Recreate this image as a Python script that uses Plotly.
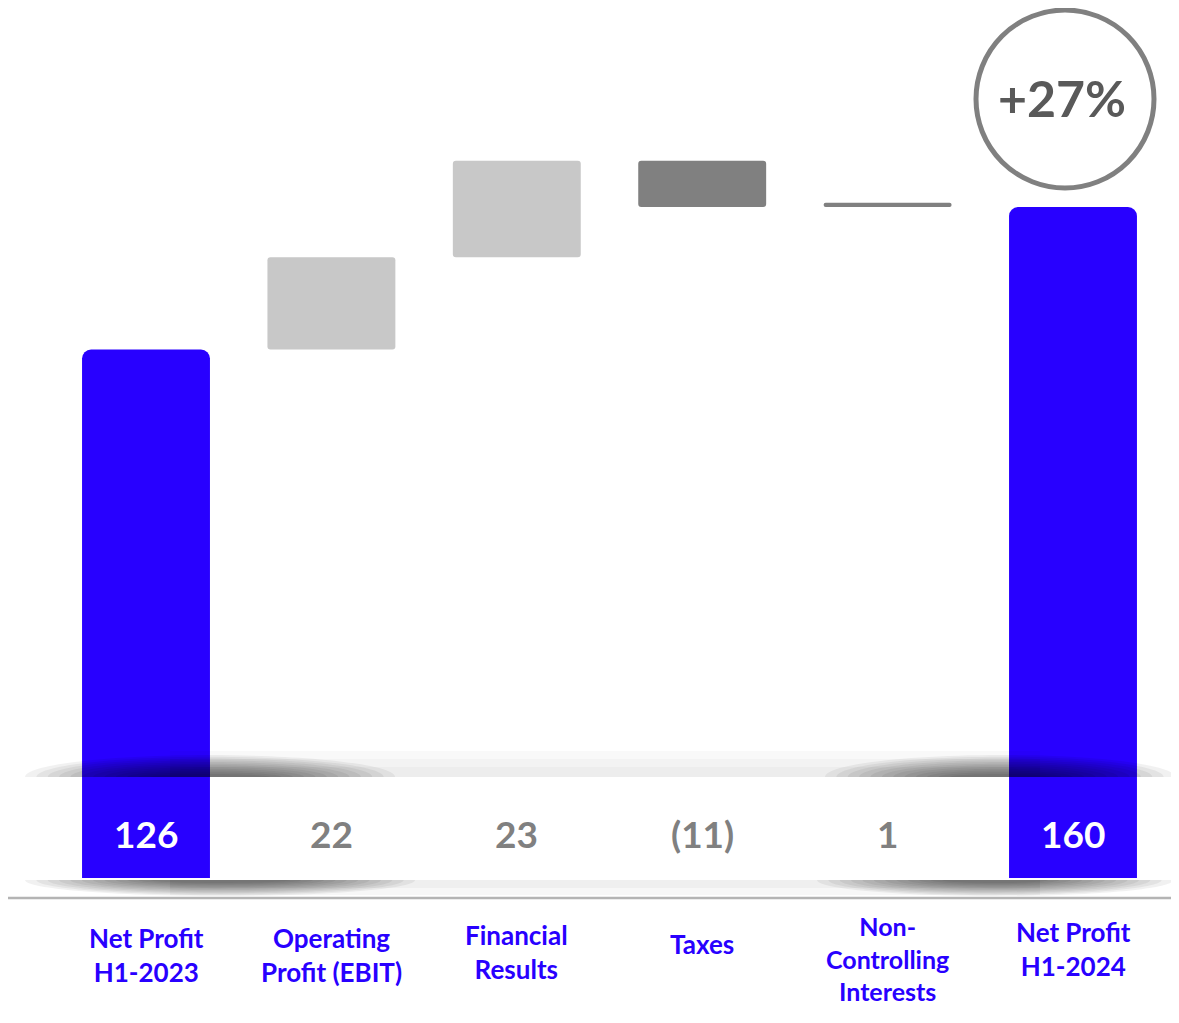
import plotly.graph_objects as go

# ---------------- data ----------------
categories = ["Net Profit<br>H1-2023", "Operating<br>Profit (EBIT)", "Financial<br>Results",
              "Taxes", "Non-<br>Controlling<br>Interests", "Net Profit<br>H1-2024"]
values = [126, 22, 23, -11, 1, 160]
kinds = ["total", "change", "change", "change", "change", "total"]
value_labels = ["126", "22", "23", "(11)", "1", "160"]
growth_label = "+27%"

# ---------------- styling ----------------
PW, PH = 1179, 1023          # browser page
OFF = 8                      # default body margin of the html page
W, H = PW - 2 * OFF, PH - 2 * OFF
BLUE = "#2800FF"
LIGHT = "#C8C8C8"
DARK = "#808080"
FONT = "Lato"

def px_x(p):
    return (p - OFF) / W

def px_y(p):
    return 1 - (p - OFF) / H

# compute bases for the waterfall
bases, heights, colors = [], [], []
running = 0
for v, k in zip(values, kinds):
    if k == "total":
        bases.append(0)
        heights.append(v)
        colors.append(BLUE)
        running = v
    else:
        bases.append(running)
        heights.append(v)
        colors.append(LIGHT if v > 1 else DARK)
        running += v

xs = list(range(len(categories)))
tot_idx = [i for i, k in enumerate(kinds) if k == "total"]
chg_idx = [i for i, k in enumerate(kinds) if k != "total"]

fig = go.Figure()
fig.add_trace(go.Bar(
    x=[xs[i] for i in chg_idx], y=[heights[i] for i in chg_idx], base=[bases[i] for i in chg_idx],
    marker=dict(color=[colors[i] for i in chg_idx], line=dict(width=0), cornerradius=3),
    width=0.69, hoverinfo="skip", showlegend=False))
fig.add_trace(go.Bar(
    x=[xs[i] for i in tot_idx], y=[heights[i] for i in tot_idx],
    marker=dict(color=BLUE, line=dict(width=0), cornerradius=9),
    width=0.69, hoverinfo="skip", showlegend=False))

shapes = []
K = 0.5523

def half_ellipse(cx, cy, rx, ry, up, opacity):
    s = -1 if up else 1
    def P(x, y):
        return f"{px_x(x):.5f},{px_y(y):.5f}"
    path = (f"M {P(cx - rx, cy)} "
            f"C {P(cx - rx, cy + s * K * ry)} {P(cx - K * rx, cy + s * ry)} {P(cx, cy + s * ry)} "
            f"C {P(cx + K * rx, cy + s * ry)} {P(cx + rx, cy + s * K * ry)} {P(cx + rx, cy)} Z")
    return dict(type="path", xref="paper", yref="paper", path=path,
                fillcolor="black", opacity=opacity, line=dict(width=0), layer="above")

def strip(xa, xb, ya, yb, opacity):
    return dict(type="rect", xref="paper", yref="paper",
                x0=px_x(xa), x1=px_x(xb), y0=px_y(yb), y1=px_y(ya),
                fillcolor="black", opacity=opacity, line=dict(width=0), layer="above")

n = 12
# --- shadow above the value band (edge at y=777) ---
for hgt in (26, 18, 10):
    shapes.append(strip(170, 1040, 777 - hgt, 777, 0.022))
for cx, rx0 in ((210, 185), (1000, 175)):
    for i in range(n):
        t = i / (n - 1)
        shapes.append(half_ellipse(cx, 777, rx0 - 125 * t, 22 - 19 * t, True, 0.055))

# --- shadow below the value band (edge at y=880) ---
for hgt in (15, 8):
    shapes.append(strip(170, 1040, 880, 880 + hgt, 0.03))
for cx, rx0 in ((220, 195), (995, 178)):
    for i in range(n):
        t = i / (n - 1)
        shapes.append(half_ellipse(cx, 880, rx0 - 125 * t, 16 - 13 * t, False, 0.055))

# baseline rule
shapes.append(dict(type="line", xref="paper", yref="paper",
                   x0=px_x(8), x1=1, y0=px_y(898), y1=px_y(898),
                   line=dict(color="#B4B4B4", width=2.5), layer="above"))

# growth circle
cx, cy, r = 1065, 99, 89
shapes.append(dict(type="circle", xref="paper", yref="paper",
                   x0=px_x(cx - r), x1=px_x(cx + r), y0=px_y(cy + r), y1=px_y(cy - r),
                   line=dict(color="#808080", width=5), fillcolor="rgba(0,0,0,0)"))

annotations = []
for i, (lab, k) in enumerate(zip(value_labels, kinds)):
    annotations.append(dict(
        x=xs[i], xref="x", y=px_y(833), yref="paper", text=f"<b>{lab}</b>",
        showarrow=False, xanchor="center", yanchor="middle",
        font=dict(family=FONT, size=37, color="white" if k == "total" else "#808080")))

label_y = [955, 955, 952, 944, 958, 949]
label_size = [26, 26, 26, 26, 25, 26]
for i, cat in enumerate(categories):
    annotations.append(dict(
        x=xs[i], xref="x", y=px_y(label_y[i]), yref="paper", text=f"<b>{cat}</b>",
        showarrow=False, xanchor="center", yanchor="middle",
        font=dict(family=FONT, size=label_size[i], color=BLUE)))

annotations.append(dict(
    x=px_x(1062), xref="paper", y=px_y(98), yref="paper", text=f"<b>{growth_label}</b>",
    showarrow=False, xanchor="center", yanchor="middle",
    font=dict(family=FONT, size=50, color="#595959")))

# axis ranges mapping (page px): x=0 -> 146, x=5 -> 1073 ; y=0 -> 878, y=160 -> 207
xu = (1073 - 146) / 5
x0 = -(146 - OFF) / xu
x1 = 5 + (OFF + W - 1073) / xu
yu = (878 - 207) / 160
ytop = 160 + (207 - OFF) / yu
ybot = -(OFF + H - 878) / yu

fig.update_layout(
    width=W, height=H, autosize=False,
    margin=dict(l=0, r=0, t=0, b=0),
    paper_bgcolor="white", plot_bgcolor="white",
    barmode="overlay",
    xaxis=dict(range=[x0, x1], visible=False, fixedrange=True),
    yaxis=dict(range=[ybot, ytop], visible=False, fixedrange=True),
    shapes=shapes, annotations=annotations,
)

fig.write_html("out.html", config={"displayModeBar": False})
